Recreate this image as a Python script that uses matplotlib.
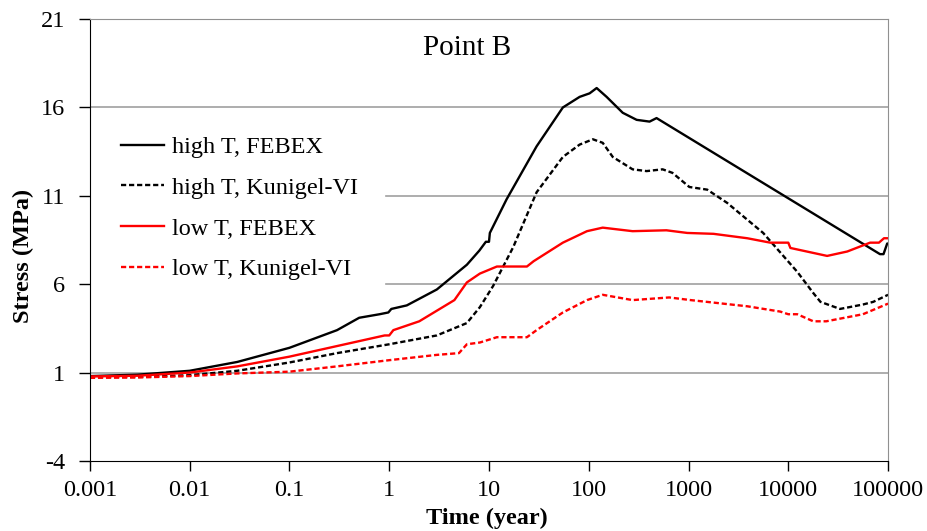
import matplotlib
matplotlib.use("Agg")
import matplotlib.pyplot as plt

plt.rcParams['font.family'] = ['Liberation Serif', 'DejaVu Serif']
plt.rcParams['axes.unicode_minus'] = False

# stress history at point B (time in years, stress in MPa)
t_hf = [0.001, 0.003, 0.01, 0.03, 0.1, 0.3, 0.5, 0.8, 0.98, 1.05, 1.5, 3, 6, 8, 9.3, 10, 10.2,
        15, 30, 55, 81, 102, 120, 151, 219, 302, 407, 478, 83000, 90000, 98000, 100000]
s_hf = [0.8, 0.88, 1.1, 1.6, 2.4, 3.4, 4.1, 4.3, 4.4, 4.6, 4.8, 5.7, 7.1, 7.9, 8.4, 8.4, 8.9,
        10.8, 13.8, 16.0, 16.6, 16.8, 17.1, 16.6, 15.7, 15.3, 15.2, 15.4, 7.7, 7.7, 8.3, 8.3]

t_hk = [0.001, 0.003, 0.01, 0.03, 0.1, 0.3, 1, 3, 6, 8.1, 11, 17.5, 30, 55, 81, 110, 138, 174,
        275, 380, 550, 690, 1020, 1540, 2440, 3880, 5600, 8300, 12300, 17800, 21000, 33000,
        56000, 71000, 100000]
s_hk = [0.75, 0.75, 0.85, 1.1, 1.57, 2.1, 2.6, 3.1, 3.8, 4.7, 5.9, 8.1, 11.2, 13.2, 13.9, 14.2,
        14.0, 13.2, 12.5, 12.4, 12.5, 12.3, 11.5, 11.35, 10.6, 9.65, 8.9, 7.8, 6.7, 5.5, 5.0,
        4.6, 4.85, 5.0, 5.4]

t_lf = [0.001, 0.003, 0.01, 0.03, 0.1, 0.3, 0.9, 1.0, 1.1, 2, 4.5, 6, 8.1, 12, 24, 28, 55, 96,
        138, 275, 600, 970, 1780, 3880, 6600, 10000, 10500, 24500, 39000, 66000, 81000, 91000,
        100000]
s_lf = [0.78, 0.82, 1.0, 1.35, 1.9, 2.5, 3.1, 3.1, 3.4, 3.9, 5.1, 6.1, 6.6, 7.0, 7.0, 7.3, 8.35,
        9.0, 9.2, 9.0, 9.05, 8.9, 8.85, 8.6, 8.35, 8.35, 8.05, 7.6, 7.85, 8.35, 8.35, 8.6, 8.6]

t_lk = [0.001, 0.003, 0.01, 0.03, 0.1, 0.3, 1, 3, 5, 6, 8.1, 12, 24, 30, 55, 96, 138, 275, 640,
        1050, 3880, 8300, 10000, 12300, 17800, 24000, 56000, 100000]
s_lk = [0.7, 0.72, 0.8, 0.95, 1.05, 1.35, 1.7, 2.0, 2.1, 2.6, 2.7, 3.0, 3.0, 3.4, 4.4, 5.1, 5.4,
        5.1, 5.25, 5.1, 4.75, 4.45, 4.3, 4.3, 3.9, 3.9, 4.3, 4.9]

x_ticks = [0.001, 0.01, 0.1, 1, 10, 100, 1000, 10000, 100000]
x_labels = ['0.001', '0.01', '0.1', '1', '10', '100', '1000', '10000', '100000']
y_ticks = [-4, 1, 6, 11, 16, 21]

fig = plt.figure(figsize=(9.27, 5.31), dpi=100)
ax = fig.add_axes([0.097, 0.132, 0.861, 0.832])

# horizontal gridlines; the two behind the legend stop at its right edge
for y in [1, 16, 21]:
    ax.axhline(y, color='#a0a0a0', lw=1.2, zorder=0)
for y in [6, 11]:
    ax.axhline(y, xmin=0.371, color='#a0a0a0', lw=1.2, zorder=0)

dash = (0, (2.2, 1.2))
ax.plot(t_hf, s_hf, color='black', lw=1.7, label='high T, FEBEX')
ax.plot(t_hk, s_hk, color='black', lw=1.7, ls=dash, label='high T, Kunigel-VI')
ax.plot(t_lf, s_lf, color='red', lw=1.7, label='low T, FEBEX')
ax.plot(t_lk, s_lk, color='red', lw=1.7, ls=dash, label='low T, Kunigel-VI')

ax.set_xscale('log')
ax.set_xlim(0.001, 100000)
ax.set_ylim(-4, 21)
ax.set_xticks(x_ticks)
ax.set_xticklabels(x_labels)
ax.xaxis.set_minor_locator(matplotlib.ticker.NullLocator())
ax.set_yticks(y_ticks)
ax.tick_params(axis='both', labelsize=17.5, direction='out', width=1)
ax.tick_params(axis='x', length=7, pad=7)
ax.tick_params(axis='y', length=8, pad=10)

for side in ['top', 'right']:
    ax.spines[side].set_color('#909090')

fig.text(487 / 927, 1 - 518 / 531, 'Time (year)', fontsize=17.5, fontweight='bold',
         ha='center', va='center')
fig.text(23 / 927, 1 - 256 / 531, 'Stress (MPa)', fontsize=17.5, fontweight='bold',
         ha='center', va='center', rotation=90)
ax.text(0.472, 0.935, 'Point B', transform=ax.transAxes, fontsize=21, ha='center', va='center')

ax.legend(loc='upper left', bbox_to_anchor=(0.039, 0.735), frameon=False, fontsize=17.5,
          handlelength=1.75, labelspacing=0.77, borderaxespad=0, borderpad=0,
          handletextpad=0.35)

fig.savefig('out.png', dpi=100)
